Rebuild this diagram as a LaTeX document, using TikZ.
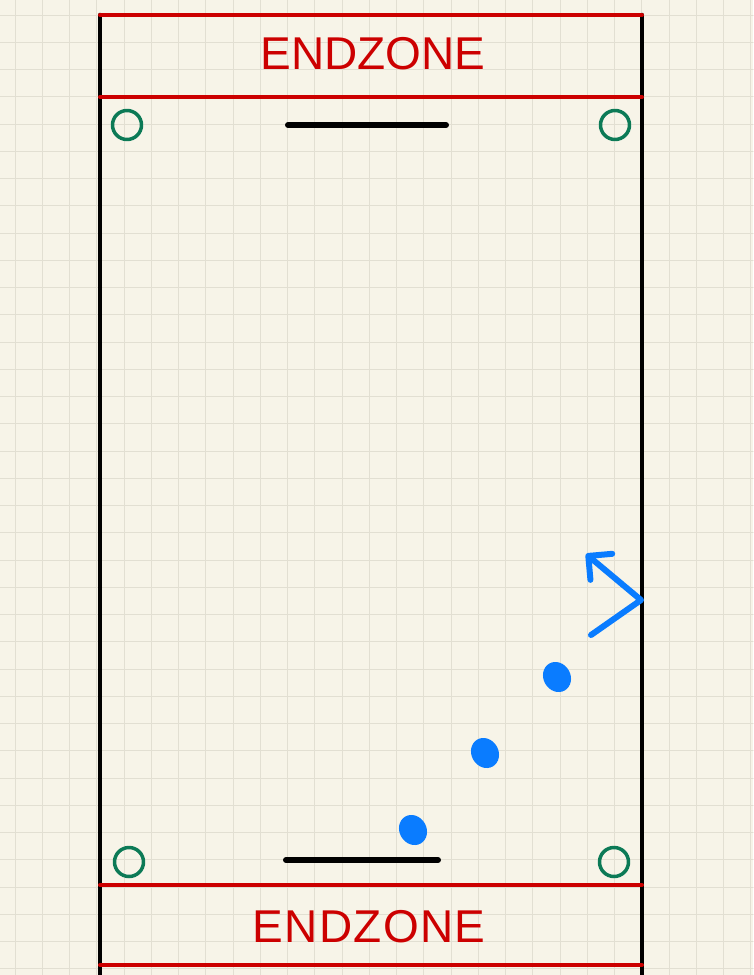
\documentclass[tikz,border=0pt]{standalone}
\usepackage{fontspec}
\setmainfont{Liberation Sans}
\usetikzlibrary{arrows.meta,shapes.geometric}
\definecolor{paper}{RGB}{247,244,232}
\definecolor{gridgray}{RGB}{226,223,210}
\definecolor{zonered}{RGB}{204,0,0}
\definecolor{conegreen}{RGB}{12,122,86}
\definecolor{discblue}{RGB}{10,124,255}

\begin{document}
\begin{tikzpicture}[x=1pt, y=-1pt, line cap=round, line join=round,
    cone/.style={circle, draw=conegreen, line width=3.5pt, minimum size=29pt, inner sep=0pt},
    player/.style={ellipse, fill=discblue, minimum width=27pt, minimum height=31pt, inner sep=0pt, rotate=30},
    zone/.style={text=zonered, font=\fontsize{46}{50}\selectfont, inner sep=0pt},
    sideline/.style={line width=4.5pt, black},
    zoneline/.style={line width=4pt, zonered},
    bar/.style={line width=6pt, black},
    run/.style={line width=6pt, discblue, -{Straight Barb[angle=90:24pt, round]}}]
    \useasboundingbox (0,0) rectangle (753,975);
    \fill[paper] (0,0) rectangle (753,975);
    \foreach \i in {0,...,27} \draw[gridgray, line width=1pt] ({15+27.25*\i},0) -- ({15+27.25*\i},975);
    \foreach \j in {0,...,35} \draw[gridgray, line width=1pt] (0,{15+27.25*\j}) -- (753,{15+27.25*\j});
    \draw[sideline] (100,15) -- (100,975);
    \draw[sideline] (642,15) -- (642,975);
    \draw[zoneline] (100,15) -- (642,15);
    \draw[zoneline] (100,97) -- (642,97);
    \draw[zoneline] (100,885) -- (642,885);
    \draw[zoneline] (100,965) -- (642,965);
    \node[zone] (topzone) at (373,54) {ENDZONE};
    \node[zone, font=\fontsize{46}{50}\selectfont\addfontfeatures{LetterSpace=3}] (botzone) at (369,927) {ENDZONE};
    \node[cone] (conetl) at (127,125) {};
    \node[cone] (conetr) at (615,125) {};
    \node[cone] (conebl) at (129,862) {};
    \node[cone] (conebr) at (614,862) {};
    \draw[bar] (288,125) -- (446,125);
    \draw[bar] (286,860) -- (438,860);
    \node[player] (p1) at (413,830) {};
    \node[player] (p2) at (485,753) {};
    \node[player] (p3) at (557,677) {};
    \coordinate (cutstart) at (591,635);
    \coordinate (cutturn) at (641,600);
    \coordinate (cutend) at (586,554);
    \draw[run] (cutstart) -- (cutturn) -- (cutend);
\end{tikzpicture}
\end{document}
